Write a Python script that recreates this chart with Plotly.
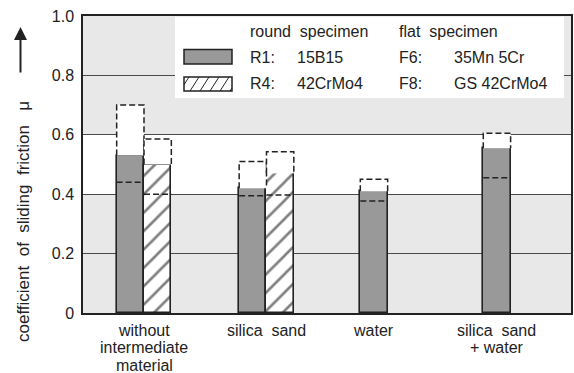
import plotly.graph_objects as go

# ---------------- data ----------------
categories = ["without\nintermediate\nmaterial", "silica  sand", "water", "silica  sand\n+ water"]
r1_mean = [0.53, 0.42, 0.41, 0.555]
r1_max = [0.70, 0.51, 0.45, 0.605]
r1_min = [0.44, 0.395, 0.377, 0.455]
r4_mean = [0.50, 0.47, None, None]
r4_max = [0.586, 0.543, None, None]
r4_min = [0.40, 0.397, None, None]
y_ticks = [0, 0.2, 0.4, 0.6, 0.8, 1.0]
y_ticklabels = ["0", "0.2", "0.4", "0.6", "0.8", "1.0"]

# ---------------- layout constants ----------------
W, H = 574, 373
ML, MR, MT, MB = 83, 3, 16, 60
PW, PH = W - ML - MR, H - MT - MB
GROUP_X = [0.5, 1.504, 2.385, 3.393]
BAR_W = 0.224
INK = "#222222"
BAR_GRAY = "#999999"
BAND = "#e8e8e8"
FONT = "Liberation Sans, Arial, Helvetica, sans-serif"

def px(x):
    return (x - ML) / PW

def py(y):
    return (H - MB - y) / PH

r1_x, r4_x = [], []
for i, g in enumerate(GROUP_X):
    if r4_mean[i] is not None:
        r1_x.append(g - BAR_W / 2)
        r4_x.append(g + BAR_W / 2)
    else:
        r1_x.append(g)
        r4_x.append(None)

fig = go.Figure()

fig.add_trace(go.Bar(
    x=r1_x, y=r1_mean, width=BAR_W,
    marker=dict(color=BAR_GRAY, line=dict(color=INK, width=1.6)),
    showlegend=False, hoverinfo="skip"))

r4x = [x for x in r4_x if x is not None]
r4y = [v for v in r4_mean if v is not None]
fig.add_trace(go.Bar(
    x=r4x, y=r4y, width=BAR_W,
    marker=dict(color="white", line=dict(color=INK, width=1.6),
                pattern=dict(shape="/", fgcolor="#000000", bgcolor="white", size=13, solidity=0.2)),
    showlegend=False, hoverinfo="skip"))

DASH = "6px,3px"

def add_range(xc, mean, vmax, vmin):
    x0, x1 = xc - BAR_W / 2, xc + BAR_W / 2
    fig.add_trace(go.Scatter(
        x=[x0, x0, x1, x1], y=[mean, vmax, vmax, mean],
        mode="lines", fill="toself", fillcolor="white",
        line=dict(color=INK, width=1.5, dash=DASH),
        showlegend=False, hoverinfo="skip"))
    fig.add_trace(go.Scatter(
        x=[x0, x1], y=[vmin, vmin], mode="lines",
        line=dict(color=INK, width=1.5, dash=DASH),
        showlegend=False, hoverinfo="skip"))

for i in range(len(categories)):
    add_range(r1_x[i], r1_mean[i], r1_max[i], r1_min[i])
    if r4_mean[i] is not None:
        add_range(r4_x[i], r4_mean[i], r4_max[i], r4_min[i])

shapes = [
    dict(type="rect", xref="paper", yref="y", x0=0, x1=1, y0=0, y1=0.4,
         fillcolor=BAND, line=dict(width=0), layer="below"),
    dict(type="rect", xref="paper", yref="y", x0=0, x1=1, y0=0.6, y1=1.0,
         fillcolor=BAND, line=dict(width=0), layer="below"),
    # legend box
    dict(type="rect", xref="paper", yref="paper", x0=px(175), x1=px(564), y0=py(98), y1=py(MT + 0.8),
         fillcolor="white", line=dict(width=0), layer="above"),
    # legend swatches
    dict(type="rect", xref="paper", yref="paper", x0=px(184), x1=px(232), y0=py(64), y1=py(49.5),
         fillcolor=BAR_GRAY, line=dict(color=INK, width=1.5), layer="above"),
    dict(type="rect", xref="paper", yref="paper", x0=px(184), x1=px(232), y0=py(91), y1=py(77),
         fillcolor="white", line=dict(color=INK, width=1.5), layer="above"),
]
for k in range(6):
    a0, b0 = 184 + k * 10 - 4, 91.0
    a1, b1 = a0 + 9, 77.0
    if a0 < 184:
        b0 = 91 - (184 - a0) * 14 / 9
        a0 = 184
    if a1 > 232:
        b1 = 77 + (a1 - 232) * 14 / 9
        a1 = 232
    if a0 < a1:
        shapes.append(dict(type="line", xref="paper", yref="paper",
                           x0=px(a0), y0=py(b0), x1=px(a1), y1=py(b1),
                           line=dict(color=INK, width=1), layer="above"))

ann = []
def txt(x, y, s, xanchor="left", size=16, **kw):
    ann.append(dict(xref="paper", yref="paper", x=px(x), y=py(y), text=s, showarrow=False,
                    xanchor=xanchor, yanchor="middle",
                    font=dict(family=FONT, size=size, color=INK), **kw))

txt(248, 32, "round  specimen")
txt(397, 32, "flat  specimen")
txt(248, 57, "R1:")
txt(295, 57, "15B15")
txt(397, 57, "F6:")
txt(452, 57, "35Mn 5Cr")
txt(248, 84, "R4:")
txt(295, 84, "42CrMo4")
txt(397, 84, "F8:")
txt(452, 84, "GS 42CrMo4")

# y title and arrow
txt(24, 222, "coefficient  of  sliding  friction   μ", xanchor="center", size=17, textangle=-90)
ann.append(dict(xref="paper", yref="paper", x=px(20.5), y=py(27),
                ax=0, ay=47, text="", showarrow=True, arrowhead=2, arrowsize=1.3,
                arrowwidth=2, arrowcolor=INK))

# category labels
for g, cat in zip(GROUP_X, categories):
    for j, line in enumerate(cat.split("\n")):
        ann.append(dict(xref="x", yref="paper", x=g, y=py(330 + 17.5 * j), text=line,
                        showarrow=False, xanchor="center", yanchor="middle",
                        font=dict(family=FONT, size=16, color=INK)))

fig.update_layout(
    width=W, height=H,
    margin=dict(l=ML, r=MR, t=MT, b=MB, pad=0, autoexpand=False),
    paper_bgcolor="white", plot_bgcolor="white",
    barmode="overlay", bargap=0,
    shapes=shapes, annotations=ann,
    font=dict(family=FONT, size=16, color=INK),
    xaxis=dict(range=[0, 4], showticklabels=False, ticks="", showgrid=False,
               zeroline=False, showline=True, mirror=True, linecolor=INK, linewidth=1.5,
               fixedrange=True),
    yaxis=dict(range=[0, 1], tickvals=y_ticks, ticktext=y_ticklabels, ticks="",
               showgrid=True, gridcolor="#4a4a4a", gridwidth=1.3, zeroline=False,
               showline=True, mirror=True, linecolor=INK, linewidth=1.5,
               tickfont=dict(family=FONT, size=16, color=INK), ticklabelstandoff=4,
               fixedrange=True),
    showlegend=False,
)

fig.write_html("out.html", config={"displayModeBar": False},
               post_script="document.body.style.margin='0px';")
